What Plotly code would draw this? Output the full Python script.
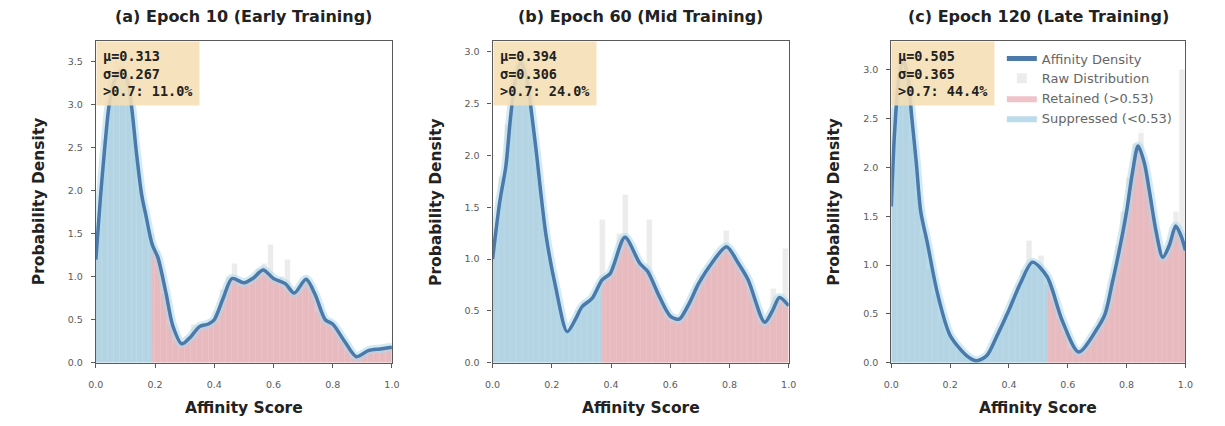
import numpy as np
import plotly.graph_objects as go

# ---------------- data ----------------
panel_titles = [
    "(a) Epoch 10 (Early Training)",
    "(b) Epoch 60 (Mid Training)",
    "(c) Epoch 120 (Late Training)",
]
stat_texts = [
    ["μ=0.313", "σ=0.267", ">0.7: 11.0%"],
    ["μ=0.394", "σ=0.306", ">0.7: 24.0%"],
    ["μ=0.505", "σ=0.365", ">0.7: 44.4%"],
]
thresholds = [0.19, 0.37, 0.53]
y_max = [3.75, 3.11, 3.3]

# smoothed affinity density curves
ep10_x = [0.0, 0.015, 0.03, 0.045, 0.065, 0.085, 0.105, 0.12, 0.137, 0.155, 0.17, 0.19,
          0.21, 0.237, 0.26, 0.29, 0.32, 0.35, 0.38, 0.40, 0.43, 0.46, 0.50, 0.53, 0.565,
          0.60, 0.64, 0.67, 0.71, 0.74, 0.775, 0.80, 0.84, 0.88, 0.92, 0.96, 1.0]
ep10_density = [1.2, 1.9, 2.5, 3.0, 3.3, 3.4, 3.3, 3.0, 2.45, 1.95, 1.7, 1.38,
                1.22, 0.81, 0.43, 0.22, 0.3, 0.42, 0.45, 0.5, 0.75, 0.98, 0.93, 0.98, 1.08,
                0.98, 0.92, 0.81, 0.97, 0.8, 0.5, 0.45, 0.25, 0.07, 0.14, 0.16, 0.18]

ep60_x = [0.0, 0.024, 0.045, 0.06, 0.075, 0.095, 0.115, 0.13, 0.147, 0.18, 0.213, 0.252,
          0.28, 0.302, 0.336, 0.37, 0.397, 0.447, 0.497, 0.524, 0.563, 0.60, 0.63, 0.66,
          0.697, 0.74, 0.79, 0.83, 0.863, 0.919, 0.945, 0.969, 1.0]
ep60_density = [1.0, 1.55, 1.9, 2.35, 2.7, 2.9, 2.75, 2.45, 2.05, 1.24, 0.73, 0.30,
                0.42, 0.54, 0.62, 0.80, 0.86, 1.21, 0.96, 0.88, 0.64, 0.45, 0.42, 0.55,
                0.77, 0.96, 1.12, 0.96, 0.80, 0.39, 0.5, 0.63, 0.55]

ep120_x = [0.0, 0.01, 0.025, 0.04, 0.055, 0.07, 0.085, 0.10, 0.123, 0.157, 0.20, 0.257,
           0.29, 0.324, 0.36, 0.40, 0.44, 0.48, 0.53, 0.58, 0.637, 0.70, 0.727, 0.75,
           0.775, 0.80, 0.82, 0.839, 0.86, 0.878, 0.90, 0.923, 0.945, 0.967, 0.985, 1.0]
ep120_density = [1.6, 2.3, 2.9, 3.1, 2.95, 2.5, 2.05, 1.55, 1.22, 0.71, 0.28, 0.07,
                 0.02, 0.07, 0.28, 0.54, 0.82, 1.03, 0.88, 0.44, 0.11, 0.35, 0.5, 0.8,
                 1.15, 1.55, 1.95, 2.22, 2.05, 1.75, 1.35, 1.08, 1.2, 1.40, 1.3, 1.15]

# raw histograms (50 bins over [0, 1])
ep10_hist = [1.6, 2.6, 3.3, 3.5, 3.55, 3.3, 2.7, 2.0, 1.6, 1.5,
             1.3, 0.8, 0.45, 0.25, 0.2, 0.3, 0.45, 0.4, 0.45, 0.5,
             0.6, 0.85, 1.0, 1.15, 0.9, 0.95, 1.0, 1.1, 1.15, 1.38,
             0.95, 1.0, 1.2, 0.8, 0.85, 1.0, 0.9, 0.6, 0.5, 0.5,
             0.4, 0.3, 0.15, 0.05, 0.05, 0.12, 0.15, 0.15, 0.18, 0.2]
ep60_hist = [1.3, 1.8, 2.3, 2.75, 2.95, 2.9, 2.6, 1.9, 1.4, 1.0,
             0.75, 0.45, 0.3, 0.35, 0.5, 0.6, 0.6, 0.7, 1.38, 0.85,
             0.95, 1.25, 1.62, 1.1, 0.95, 0.9, 1.38, 0.7, 0.6, 0.45,
             0.4, 0.45, 0.5, 0.6, 0.75, 0.85, 0.95, 1.0, 1.05, 1.28,
             1.05, 0.95, 0.85, 0.7, 0.55, 0.4, 0.45, 0.72, 0.65, 1.1]
ep120_hist = [2.6, 3.15, 2.9, 2.3, 1.7, 1.3, 0.95, 0.7, 0.45, 0.3,
              0.2, 0.12, 0.06, 0.03, 0.02, 0.04, 0.1, 0.2, 0.35, 0.5,
              0.65, 0.8, 0.95, 1.25, 1.0, 1.1, 0.8, 0.65, 0.45, 0.3,
              0.15, 0.1, 0.15, 0.2, 0.3, 0.45, 0.6, 0.85, 1.2, 1.55,
              1.9, 2.25, 2.4, 1.9, 1.5, 1.15, 1.1, 1.25, 1.55, 3.0]

curves = [(ep10_x, ep10_density, ep10_hist),
          (ep60_x, ep60_density, ep60_hist),
          (ep120_x, ep120_density, ep120_hist)]

# ---------------- styling ----------------
W, H = 1225, 426
x_px = [(89, 389), (491, 791), (895, 1193)]
y_top, y_bot = 41, 367
LINE_C = "#4b79a9"
HALO_C = "rgba(173,216,235,0.55)"
BLUE_FILL = "rgba(140,195,220,0.58)"
RED_FILL = "rgba(226,140,152,0.52)"
BAR_C = "rgba(205,205,205,0.38)"
FONT = "DejaVu Sans"

bin_centers = np.arange(50) * 0.02 + 0.01

fig = go.Figure()
layout = dict(
    width=W, height=H, margin=dict(l=0, r=0, t=0, b=0),
    paper_bgcolor="white", plot_bgcolor="white",
    showlegend=True, bargap=0, barmode="overlay",
    font=dict(family=FONT, color="#333"),
)
annotations = []

for i, ((cx, cy, hist), thr) in enumerate(zip(curves, thresholds)):
    ax = "" if i == 0 else str(i + 1)
    xa, ya = "x" + ax, "y" + ax
    show = i == 2
    split = cx.index(thr)

    fig.add_trace(go.Bar(
        x=bin_centers, y=hist, width=0.02, xaxis=xa, yaxis=ya,
        marker=dict(color=BAR_C, line=dict(color="white", width=0.6)),
        name="Raw Distribution", showlegend=show, legendrank=2,
    ))
    fig.add_trace(go.Scatter(
        x=cx[:split + 1], y=cy[:split + 1], xaxis=xa, yaxis=ya,
        mode="lines", line=dict(width=0, shape="spline", smoothing=0.8),
        fill="tozeroy", fillcolor=BLUE_FILL,
        name="Suppressed (<0.53)", showlegend=show, legendrank=4,
    ))
    fig.add_trace(go.Scatter(
        x=cx[split:], y=cy[split:], xaxis=xa, yaxis=ya,
        mode="lines", line=dict(width=0, shape="spline", smoothing=0.8),
        fill="tozeroy", fillcolor=RED_FILL,
        name="Retained (>0.53)", showlegend=show, legendrank=3,
    ))
    fig.add_trace(go.Scatter(
        x=cx, y=cy, xaxis=xa, yaxis=ya, mode="lines",
        line=dict(color=HALO_C, width=9, shape="spline", smoothing=0.8),
        showlegend=False, hoverinfo="skip",
    ))
    fig.add_trace(go.Scatter(
        x=cx, y=cy, xaxis=xa, yaxis=ya, mode="lines",
        line=dict(color=LINE_C, width=3.5, shape="spline", smoothing=0.8),
        name="Affinity Density", showlegend=show, legendrank=1,
    ))

    x0, x1 = x_px[i]
    dom_x = [x0 / W, x1 / W]
    dom_y = [1 - y_bot / H, 1 - y_top / H]
    axis_common = dict(
        showline=True, mirror=True, linecolor="#5a5a5a", linewidth=1.2,
        ticks="outside", ticklen=4, tickcolor="#5a5a5a", tickwidth=1,
        tickfont=dict(family=FONT, size=9.5, color="#5a5a5a"),
        showgrid=False, zeroline=False,
    )
    layout["xaxis" + ax] = dict(
        domain=dom_x, range=[0, 1], anchor=ya, tickvals=[0, 0.2, 0.4, 0.6, 0.8, 1.0],
        ticktext=["0.0", "0.2", "0.4", "0.6", "0.8", "1.0"], ticklabelstandoff=9,
        **axis_common)
    yticks = [v / 2 for v in range(0, int(y_max[i] * 2) + 1)]
    layout["yaxis" + ax] = dict(
        domain=dom_y, range=[0, y_max[i]], anchor=xa, tickvals=yticks,
        ticktext=[f"{v:.1f}" for v in yticks], ticklabelstandoff=6, **axis_common)

    cx_mid = (x0 + x1) / 2 / W
    annotations.append(dict(
        text=f"<b>{panel_titles[i]}</b>", x=cx_mid, y=1 - 17 / H,
        xref="paper", yref="paper", xanchor="center", yanchor="middle", showarrow=False,
        font=dict(family=FONT, size=16, color="#222"),
    ))
    annotations.append(dict(
        text="<b>Affinity Score</b>", x=cx_mid, y=1 - 413 / H,
        xref="paper", yref="paper", xanchor="center", yanchor="middle", showarrow=False,
        font=dict(family=FONT, size=15.5, color="#222"),
    ))
    annotations.append(dict(
        text="<b>Probability Density</b>", x=(x0 - 58) / W, y=(dom_y[0] + dom_y[1]) / 2,
        xref="paper", yref="paper", xanchor="center", yanchor="middle",
        showarrow=False, textangle=-90,
        font=dict(family=FONT, size=15.5, color="#222"),
    ))
    stat_lines = [s.replace(">", "&gt;") for s in stat_texts[i]]
    annotations.append(dict(
        text="<b>" + "<br>".join(stat_lines) + "</b>",
        x=0.0, y=0.997, xref=xa + " domain", yref=ya + " domain",
        xanchor="left", yanchor="top", align="left", showarrow=False,
        bgcolor="rgba(245,222,179,0.88)", borderpad=6,
        font=dict(family="DejaVu Sans Mono", size=13.5, color="#222"),
    ))

layout["annotations"] = annotations
layout["legend"] = dict(
    x=1007 / W, y=1 - 44 / H, xanchor="left", yanchor="top",
    bgcolor="rgba(255,255,255,0.75)", borderwidth=0,
    font=dict(family=FONT, size=13, color="#666"),
    tracegroupgap=0, itemsizing="constant",
)
fig.update_layout(**layout)
fig.write_html("out.html")
